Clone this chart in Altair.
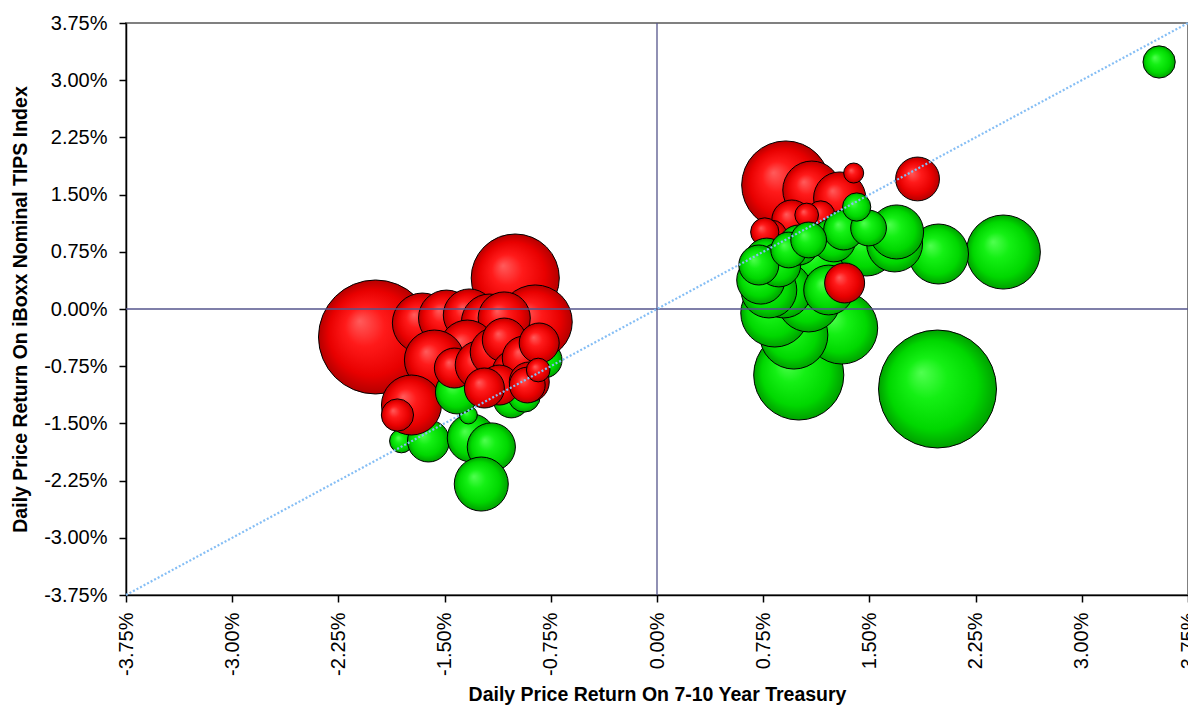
import altair as alt
import pandas as pd

# ---- data (percent daily returns; bubble magnitude), listed in drawing order ----
# left cluster, green points (drawn first)
gl_x = [-1.805, -1.614, -1.311, -1.170, -1.241, -1.332, -1.029, -0.938, -0.797]
gl_y = [-1.731, -1.731, -1.691, -1.809, -2.295, -1.390, -1.193, -1.141, -0.669]
gl_size = [1.4, 4.4, 5.8, 5.8, 7.3, 0.8, 3.2, 2.6, 3.2]

# left cluster, larger red points
rl_x = [-1.988, -1.001, -0.860, -1.657, -1.487, -1.325, -1.184, -1.079, -1.339, -1.572,
        -1.734, -1.833]
rl_y = [-0.367, 0.406, -0.170, -0.184, -0.118, -0.079, -0.170, -0.118, -0.511, -0.669,
        -1.259, -1.390]
rl_size = [32.5, 19.4, 13.7, 9.0, 7.8, 6.8, 7.8, 6.8, 7.8, 9.0,
           9.0, 2.6]

# left cluster, green point in between
gm_x = [-1.410]
gm_y = [-1.089]
gm_size = [4.8]

# left cluster, smaller red points
rs_x = [-1.431, -1.255, -1.149, -1.079, -1.008, -0.938, -1.114, -0.902, -1.219, -0.832,
        -0.916, -0.839]
rs_y = [-0.774, -0.734, -0.564, -0.406, -0.826, -0.642, -0.997, -0.957, -1.036, -0.446,
        -0.997, -0.800]
rs_size = [4.0, 5.8, 5.8, 4.8, 4.8, 4.8, 4.0, 4.0, 4.0, 4.0,
           3.2, 1.4]

# right cluster, red points
rr_x = [0.909, 1.093, 1.290, 1.840, 0.952, 0.811, 0.761, 1.156, 1.057, 1.389]
rr_y = [1.626, 1.560, 1.455, 1.705, 1.167, 0.970, 1.010, 1.233, 1.233, 1.783]
rr_size = [19.4, 8.4, 6.8, 4.8, 4.0, 2.2, 2.0, 2.0, 1.4, 1.0]

# right cluster, green points
gr_x = [1.981, 1.001, 1.304, 2.446, 0.966, 0.832, 1.071, 1.988, 1.128, 1.480,
        1.678, 1.692, 0.895, 0.790, 1.212, 0.733, 0.775, 0.860, 1.248, 0.719,
        1.001, 1.318, 1.494, 0.930, 1.071, 1.410, 3.546]
gr_y = [-1.049, -0.865, -0.249, 0.747, -0.341, -0.052, 0.118, 0.721, 0.642, 0.813,
        0.852, 1.010, 0.249, 0.249, 0.249, 0.380, 0.642, 0.577, 0.905, 0.577,
        0.839, 1.036, 1.062, 0.774, 0.905, 1.337, 3.239]
gr_size = [34.8, 20.3, 13.0, 13.7, 11.6, 11.6, 10.2, 9.0, 9.0, 8.4,
           7.8, 7.3, 7.8, 7.8, 6.2, 5.8, 4.8, 4.8, 4.8, 4.0,
           4.0, 4.0, 3.2, 3.2, 3.2, 2.0, 2.6]

# last point drawn on top
last_x = [1.325]
last_y = [0.341]
last_size = [4.0]

tick_values = [-3.75, -3.0, -2.25, -1.5, -0.75, 0.0, 0.75, 1.5, 2.25, 3.0, 3.75]
axis_min, axis_max = -3.75, 3.75

rows = []
for xs_, ys_, ss_, col in [(gl_x, gl_y, gl_size, "green"),
                           (rl_x, rl_y, rl_size, "red"),
                           (gm_x, gm_y, gm_size, "green"),
                           (rs_x, rs_y, rs_size, "red"),
                           (rr_x, rr_y, rr_size, "red"),
                           (gr_x, gr_y, gr_size, "green"),
                           (last_x, last_y, last_size, "red")]:
    for x, y, s in zip(xs_, ys_, ss_):
        rows.append({"x": x, "y": y, "size": s, "series": col})
df = pd.DataFrame(rows)
df["draw"] = range(len(df))

red_grad = {
    "gradient": "radial", "x1": 0.36, "y1": 0.36, "r1": 0.0,
    "x2": 0.5, "y2": 0.5, "r2": 0.5,
    "stops": [
        {"offset": 0.0, "color": "#FF5C5C"},
        {"offset": 0.35, "color": "#FF1A1A"},
        {"offset": 0.75, "color": "#E80000"},
        {"offset": 1.0, "color": "#B40000"},
    ],
}
green_grad = {
    "gradient": "radial", "x1": 0.36, "y1": 0.36, "r1": 0.0,
    "x2": 0.5, "y2": 0.5, "r2": 0.5,
    "stops": [
        {"offset": 0.0, "color": "#50FF50"},
        {"offset": 0.35, "color": "#14F014"},
        {"offset": 0.75, "color": "#00D800"},
        {"offset": 1.0, "color": "#00A000"},
    ],
}

xs = alt.Scale(domain=[axis_min, axis_max], nice=False, zero=False)
ys = alt.Scale(domain=[axis_min, axis_max], nice=False, zero=False)
lab = "(datum.value < 0 ? '-' : '') + format(abs(datum.value), '.2f') + '%'"

bubbles = alt.Chart(df).mark_circle(opacity=1, stroke="black", strokeWidth=1).encode(
    x=alt.X("x:Q", scale=xs, axis=alt.Axis(
        values=tick_values, labelExpr=lab, labelAngle=-90, grid=False,
        title="Daily Price Return On 7-10 Year Treasury",
        labelPadding=10, titlePadding=10)),
    y=alt.Y("y:Q", scale=ys, axis=alt.Axis(
        values=tick_values, labelExpr=lab, grid=False,
        title="Daily Price Return On iBoxx Nominal TIPS Index",
        labelPadding=12, titlePadding=13)),
    size=alt.Size("size:Q", scale=alt.Scale(domain=[0, 35], range=[0, 14000], zero=True), legend=None),
    fill=alt.condition("datum.series == 'red'", alt.value(red_grad), alt.value(green_grad)),
    order=alt.Order("draw:Q", sort="ascending"),
)

one = pd.DataFrame({"k": [0]})
hline = alt.Chart(one).mark_rule(color="#55558C", strokeWidth=1.3).encode(
    y=alt.datum(0.0, scale=ys))
vline = alt.Chart(one).mark_rule(color="#55558C", strokeWidth=1.3).encode(
    x=alt.datum(0.0, scale=xs))
diag = alt.Chart(one).mark_rule(color="#85BEF5", strokeWidth=2.2, strokeDash=[2, 2]).encode(
    x=alt.datum(axis_min, scale=xs), y=alt.datum(axis_min, scale=ys),
    x2=alt.datum(axis_max), y2=alt.datum(axis_max))

chart = alt.layer(bubbles, hline, vline, diag).properties(
    width=1062, height=572,
    autosize=alt.AutoSizeParams(type="none"),
    padding={"left": 118, "top": 15, "right": 0, "bottom": 110},
).configure_view(
    stroke="#808080", strokeWidth=2
).configure_axis(
    labelFont="Liberation Sans", labelFontSize=20, labelColor="black",
    titleFont="Liberation Sans", titleFontSize=19.5, titleFontWeight="bold", titleColor="black",
    domainColor="black", domainWidth=1.5, tickColor="black", tickSize=7, tickWidth=1.5,
)

chart.save("out.html", embed_options={"renderer": "svg", "actions": False})
